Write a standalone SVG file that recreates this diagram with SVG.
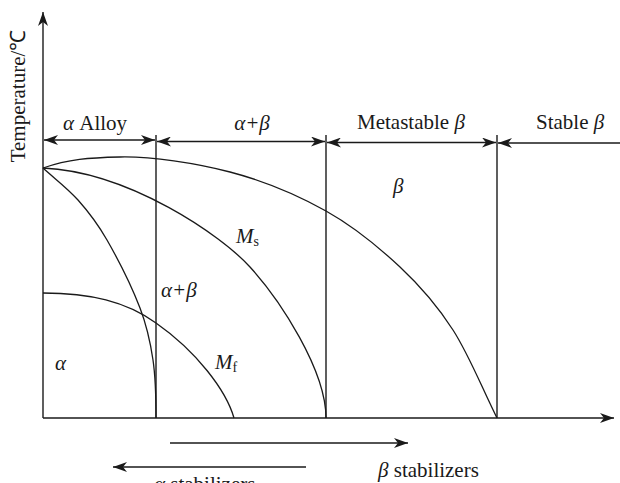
<svg xmlns="http://www.w3.org/2000/svg" width="620" height="483" viewBox="0 0 620 483">
<style>
  .ln { fill: none; stroke: #1a1a1a; stroke-width: 1.4; }
  .cv { fill: none; stroke: #1a1a1a; stroke-width: 1.3; }
  .t { font-family: "Liberation Serif", "Times New Roman", serif; font-size: 21px; fill: #1a1a1a; }
  .i { font-style: italic; }
  .sub { font-size: 14px; font-style: normal; }
</style>
<defs>
  <marker id="ah" viewBox="0 0 14 10" refX="14" refY="5" markerWidth="14" markerHeight="10" markerUnits="userSpaceOnUse" orient="auto-start-reverse">
    <path d="M0,0 L14,5 L0,10 L4,5 Z" fill="#1a1a1a"/>
  </marker>
</defs>
<rect width="620" height="483" fill="#fff"/>

<g id="axes">
  <line class="ln" x1="43" y1="418" x2="43" y2="12" marker-end="url(#ah)"/>
  <line class="ln" x1="43" y1="418" x2="614" y2="418" marker-end="url(#ah)"/>
  <text class="t" transform="translate(25,96) rotate(-90)" text-anchor="middle">Temperature/℃</text>
</g>

<g id="boundaries">
  <line class="ln" x1="156" y1="135" x2="156" y2="418"/>
  <line class="ln" x1="326" y1="135" x2="326" y2="418"/>
  <line class="ln" x1="497" y1="135" x2="497" y2="418"/>
</g>

<g id="connectors">
  <line class="ln" x1="44" y1="140" x2="155" y2="140" marker-start="url(#ah)" marker-end="url(#ah)"/>
  <line class="ln" x1="157" y1="141.5" x2="325" y2="141.5" marker-start="url(#ah)" marker-end="url(#ah)"/>
  <line class="ln" x1="327" y1="142.5" x2="496" y2="142.5" marker-start="url(#ah)" marker-end="url(#ah)"/>
  <line class="ln" x1="620" y1="143" x2="498" y2="143" marker-end="url(#ah)"/>
  <line class="ln" x1="170" y1="443" x2="408" y2="443" marker-end="url(#ah)"/>
  <line class="ln" x1="306" y1="467" x2="113" y2="467" marker-end="url(#ah)"/>
</g>

<g id="curves">
  <path id="beta-transus" class="cv" d="M43,168 C69,159 88.8,157.7 120,157 C151.2,156.3 195.7,163 230,172 C264.3,181 297.7,195.2 326,211 C354.3,226.8 378.8,247.2 400,267 C421.2,286.8 436.8,304.8 453,330 C469.2,355.2 482.3,388.7 497,418"/>
  <path id="ms-curve" class="cv" d="M43,168 C130,172 222,236 250,267 C280,300 326,370 326,418"/>
  <path id="alpha-transus" class="cv" d="M43,168 C54.7,178.7 67.3,188 78,200 C88.7,212 96.7,222 107,240 C117.3,258 132.3,288 140,308 C147.7,328 150.3,341.7 153,360 C155.7,378.3 156,400 156,418"/>
  <path id="mf-curve" class="cv" d="M43,293 C90,293 126,301.4 156,323 C196,351 226,390 234,418"/>
</g>

<g id="labels">
  <text class="t" x="63" y="130"><tspan class="i">α</tspan> Alloy</text>
  <text class="t i" x="252" y="130" text-anchor="middle">α+β</text>
  <text class="t" x="357" y="129">Metastable <tspan class="i">β</tspan></text>
  <text class="t" x="536" y="129">Stable <tspan class="i">β</tspan></text>
  <text class="t i" x="393" y="193">β</text>
  <text class="t i" x="236" y="243">M<tspan class="sub" dy="3">s</tspan></text>
  <text class="t i" x="161" y="297">α+β</text>
  <text class="t i" x="215" y="369">M<tspan class="sub" dy="3">f</tspan></text>
  <text class="t i" x="55" y="370">α</text>
  <text class="t" x="378" y="477"><tspan class="i">β</tspan> stabilizers</text>
  <text class="t" x="154" y="491"><tspan class="i">α</tspan> stabilizers</text>
</g>
</svg>
